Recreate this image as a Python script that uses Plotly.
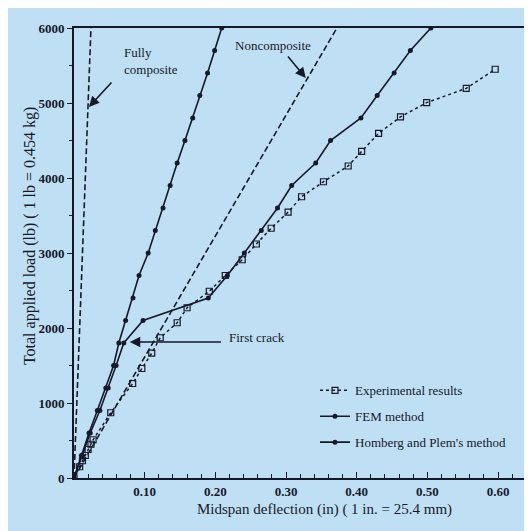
import plotly.graph_objects as go

# ---------------- data ----------------
exp_x = [0, 0.008, 0.012, 0.016, 0.020, 0.024, 0.027, 0.052, 0.083, 0.096, 0.110, 0.122,
         0.146, 0.160, 0.1915, 0.214, 0.238, 0.258, 0.279, 0.303, 0.322, 0.353, 0.388,
         0.407, 0.431, 0.462, 0.499, 0.555, 0.596]
exp_y = [0, 150, 230, 300, 380, 450, 510, 870, 1260, 1460, 1665, 1870,
         2070, 2270, 2490, 2700, 2910, 3120, 3330, 3545, 3750, 3950, 4160,
         4355, 4595, 4815, 5005, 5195, 5450]

fem_x = [0, 0.012, 0.023, 0.0366, 0.0484, 0.0596, 0.0704, 0.0977, 0.190, 0.217,
         0.241, 0.265, 0.288, 0.308, 0.342, 0.363, 0.406, 0.429, 0.453, 0.476, 0.505]
fem_y = [0, 300, 600, 900, 1200, 1500, 1800, 2100, 2400, 2700,
         3000, 3300, 3600, 3900, 4200, 4500, 4800, 5100, 5400, 5700, 6000]

hom_x = [0, 0.0105, 0.0212, 0.033, 0.045, 0.056, 0.0634, 0.073, 0.0835, 0.092, 0.105,
         0.115, 0.126, 0.136, 0.146, 0.157, 0.168, 0.178, 0.189, 0.199, 0.209]
hom_y = [0, 300, 600, 900, 1200, 1500, 1800, 2100, 2400, 2700, 3000,
         3300, 3600, 3900, 4200, 4500, 4800, 5100, 5400, 5700, 6000]

full_x = [0, 0.024]
full_y = [0, 6000]
non_x = [0, 0.372]
non_y = [0, 6000]

x_ticks = [0.10, 0.20, 0.30, 0.40, 0.50, 0.60]
x_ticklabels = ["0.10", "0.20", "0.30", "0.40", "0.50", "0.60"]
y_ticks = [0, 1000, 2000, 3000, 4000, 5000, 6000]

# ---------------- style ----------------
INK = "#16182a"
BG = "#bfe0f4"
SERIF = "Liberation Serif, Times New Roman, serif"

fig = go.Figure()

fig.add_trace(go.Scatter(x=full_x, y=full_y, mode="lines", showlegend=False,
                         line=dict(color=INK, width=1.6, dash="6px,3px")))
fig.add_trace(go.Scatter(x=non_x, y=non_y, mode="lines", showlegend=False,
                         line=dict(color=INK, width=1.6, dash="6px,3px")))

fig.add_trace(go.Scatter(x=exp_x, y=exp_y, mode="lines+markers", name="Experimental results",
                         legendgroup="a",
                         line=dict(color=INK, width=1.5, dash="dot"),
                         marker=dict(symbol="square-open", size=6, color=INK,
                                     line=dict(width=1.2, color=INK))))
fig.add_trace(go.Scatter(x=fem_x, y=fem_y, mode="lines+markers", name="FEM method",
                         legendgroup="b",
                         line=dict(color=INK, width=1.6),
                         marker=dict(symbol="circle", size=5, color=INK)))
fig.add_trace(go.Scatter(x=hom_x, y=hom_y, mode="lines+markers", name="Homberg and Plem's method",
                         legendgroup="c",
                         line=dict(color=INK, width=1.6),
                         marker=dict(symbol="circle", size=5, color=INK)))

annots = [
    dict(x=0.0211, y=4947, ax=0.055, ay=5293, xref="x", yref="y", axref="x", ayref="y",
         text="", showarrow=True, arrowhead=2, arrowsize=1.3, arrowwidth=1.6, arrowcolor=INK),
    dict(x=0.0676, y=5560, xref="x", yref="y", text="Fully<br>composite", showarrow=False,
         xanchor="left", yanchor="middle", align="left", font=dict(size=13, color=INK, family=SERIF)),
    dict(x=0.328, y=5333, ax=0.301, ay=5640, xref="x", yref="y", axref="x", ayref="y",
         text="", showarrow=True, arrowhead=2, arrowsize=1.3, arrowwidth=1.6, arrowcolor=INK),
    dict(x=0.2817, y=5773, xref="x", yref="y", text="Noncomposite", showarrow=False,
         xanchor="center", yanchor="middle", font=dict(size=13, color=INK, family=SERIF)),
    dict(x=0.079, y=1813, ax=0.210, ay=1813, xref="x", yref="y", axref="x", ayref="y",
         text="", showarrow=True, arrowhead=2, arrowsize=1.3, arrowwidth=1.6, arrowcolor=INK),
    dict(x=0.217, y=1880, xref="x", yref="y", text="First crack", showarrow=False,
         xanchor="left", yanchor="middle", font=dict(size=13, color=INK, family=SERIF)),
    dict(x=0.554, y=-0.069, xref="paper", yref="paper",
         text="Midspan deflection (in) ( 1 in. = 25.4 mm)", showarrow=False,
         xanchor="center", yanchor="middle", font=dict(size=15, color=INK, family=SERIF)),
    dict(x=-0.0967, y=0.538, xref="paper", yref="paper",
         text="Total applied load (lb) ( 1 lb = 0.454 kg)", showarrow=False, textangle=-90,
         xanchor="center", yanchor="middle", font=dict(size=16, color=INK, family=SERIF)),
]

# the page body adds an 8px offset; figure sized to fill the remaining window
fig.update_layout(
    width=524, height=523,
    margin=dict(l=66, r=3, t=20, b=53),
    paper_bgcolor=BG,
    plot_bgcolor=BG,
    font=dict(family=SERIF, color=INK, size=13),
    showlegend=True,
    legend=dict(x=0.532, y=0.228, xanchor="left", yanchor="top",
                bgcolor="rgba(0,0,0,0)", font=dict(size=13, family=SERIF, color=INK),
                traceorder="grouped", tracegroupgap=6),
    annotations=annots,
)

fig.update_xaxes(range=[0, 0.641], showline=True, linecolor=INK, linewidth=1.6, mirror=True,
                 showgrid=False, zeroline=False,
                 tickmode="array", tickvals=x_ticks, ticktext=x_ticklabels,
                 ticks="inside", ticklen=6, tickwidth=1.3, tickcolor=INK, ticklabelstandoff=1,
                 tickfont=dict(size=13, family=SERIF, color=INK, weight="bold"),
                 minor=dict(dtick=0.02, tick0=0, ticks="inside", ticklen=4, tickwidth=1, tickcolor=INK))
fig.update_yaxes(range=[0, 6000], showline=True, linecolor=INK, linewidth=1.6, mirror=True,
                 showgrid=False, zeroline=False,
                 tickmode="array", tickvals=y_ticks,
                 ticks="outside", ticklen=5, tickwidth=1.3, tickcolor=INK,
                 tickfont=dict(size=13, family=SERIF, color=INK, weight="bold"),
                 minor=dict(dtick=500, tick0=0, ticks="outside", ticklen=3, tickwidth=1, tickcolor=INK))

fig.write_html("out.html")
